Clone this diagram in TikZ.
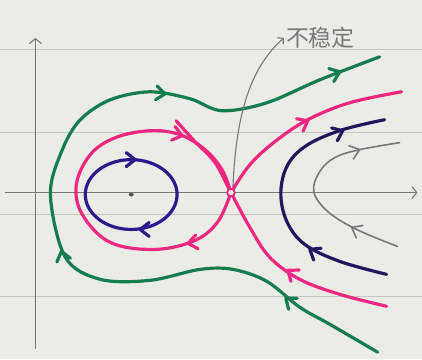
\documentclass[tikz,border=0pt]{standalone}
\usepackage{fontspec}
\newfontfamily\cjk{Noto Sans CJK SC}
\usetikzlibrary{arrows.meta}
\definecolor{paper}{RGB}{236,236,230}
\definecolor{penGreen}{RGB}{20,125,78}
\definecolor{penPink}{RGB}{238,40,128}
\definecolor{penNavy}{RGB}{35,22,95}
\definecolor{penBlue}{RGB}{45,25,140}
\definecolor{pencil}{RGB}{120,120,118}

\begin{document}
\begin{tikzpicture}[
    x=1pt, y=-1pt,
    pen/.style       = {line width=3.2pt, line cap=round, line join=round},
    thinpen/.style   = {line width=1.6pt, line cap=round, line join=round},
    paperline/.style = {gray!45, line width=1pt},
    axis/.style      = {pencil, line width=1.1pt, -{Straight Barb[length=5pt,width=12pt]}},
    vtip/.pic        = {\draw (-9,-7) -- (0,0) -- (-9,7);}
]
% paper and ruled lines
\fill[paper] (0,0) rectangle (422,360);
\foreach \yy in {50,133,215,297}
    \draw[paperline] (0,\yy) -- (422,\yy);

% axes
\coordinate (xs) at (5,193);
\coordinate (xe) at (418,193);
\coordinate (ys) at (35,350);
\coordinate (ye) at (35,38);
\draw[axis] (xs) -- (xe);
\draw[axis] (ys) -- (ye);

% equilibria
\coordinate (centre) at (131,195);
\coordinate (saddle) at (231,193);

% outer green orbit
\draw[pen, penGreen]
    plot[smooth, tension=0.55] coordinates {(378,353) (330,325) (300,308) (267,282) (233,270)
        (200,270) (150,281) (100,280) (65,258) (50,195) (62,150) (80,120) (110,100)
        (150,92) (190,99) (222,111) (267,103) (320,80) (380,57)};
\begin{scope}[pen, penGreen]
    \pic[rotate=142] at (286,299) {vtip};
    \pic[rotate=105] at (61,252) {vtip};
    \pic[rotate=-6]  at (165,94) {vtip};
    \pic[rotate=21]  at (340,72) {vtip};
\end{scope}

% pink separatrices
\draw[pen, penPink]
    plot[smooth, tension=0.6] coordinates {(387,307) (340,295) (300,280) (270,258)
        (250,228) (231,193) (215,163) (195,142) (176,121)};
\draw[pen, penPink]
    plot[smooth, tension=0.6] coordinates {(231,193) (250,165) (275,142) (308,120)
        (350,103) (402,92)};
\draw[pen, penPink]
    plot[smooth, tension=0.6] coordinates {(231,193) (218,222) (195,241) (155,250)
        (110,243) (82,215) (76,185) (90,155) (115,138) (150,131) (180,135) (205,150)
        (222,170) (231,193)};
\begin{scope}[pen, penPink]
    \pic[rotate=144] at (288,271) {vtip};
    \pic[rotate=28]  at (308,121) {vtip};
    \pic[rotate=190] at (188,244) {vtip};
    \pic[rotate=-15] at (182,136) {vtip};
\end{scope}

% inner closed orbit
\draw[pen, penBlue] (centre) ellipse[x radius=46, y radius=35];
\begin{scope}[pen, penBlue]
    \pic[rotate=0]   at (135,160) {vtip};
    \pic[rotate=180] at (140,230) {vtip};
\end{scope}

% right-hand orbits
\draw[pen, penNavy]
    plot[smooth, tension=0.6] coordinates {(387,275) (340,262) (305,245) (287,222)
        (281,193) (288,165) (308,145) (343,130) (385,120)};
\begin{scope}[pen, penNavy]
    \pic[rotate=148] at (310,250) {vtip};
    \pic[rotate=24]  at (343,131) {vtip};
\end{scope}
\draw[thinpen, pencil]
    plot[smooth, tension=0.6] coordinates {(398,247) (357,230) (328,212)
        (314,192) (320,172) (335,158) (360,150) (400,143)};
\begin{scope}[thinpen, pencil]
    \pic[rotate=152] at (352,228) {vtip};
    \pic[rotate=18]  at (360,150) {vtip};
\end{scope}

% equilibrium marks
\fill[pencil!70!black] (centre) ellipse[x radius=2.5, y radius=2];
\draw[penPink, line width=1.8pt, fill=paper] (saddle) circle[radius=3.8];

% annotation
\node[pencil, font=\cjk\fontsize{23}{23}\selectfont, anchor=west, inner sep=2pt] (label) at (284,38) {不稳定};
\draw[pencil, line width=1.1pt, -{Straight Barb[length=4pt,width=9pt]}]
    (saddle) ++(2,-6) .. controls (236,120) and (248,70) .. (label.west);
\end{tikzpicture}
\end{document}
